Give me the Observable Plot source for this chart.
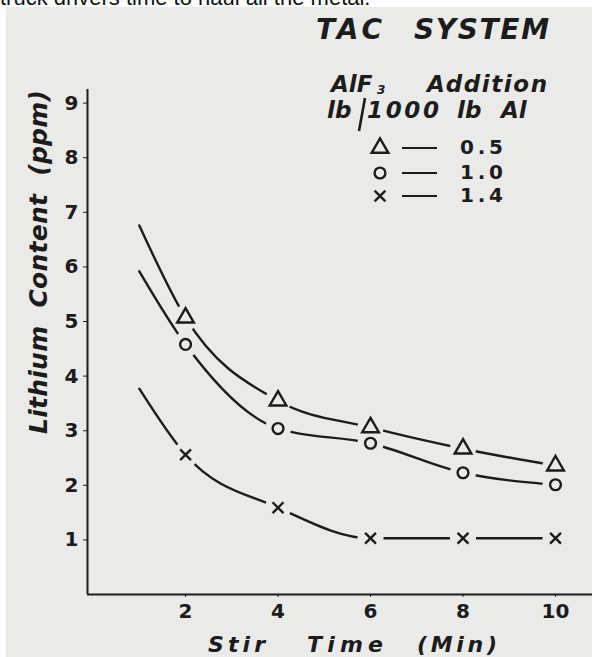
<!DOCTYPE html>
<html>
<head>
<meta charset="utf-8">
<script src="https://cdn.jsdelivr.net/npm/d3@7"></script>
<script src="https://cdn.jsdelivr.net/npm/@observablehq/plot@0.6"></script>
<style>
  html, body { margin: 0; padding: 0; background: #ffffff; }
  #page { position: relative; width: 592px; height: 657px; overflow: hidden; background: #ffffff; }
  #topline { position: absolute; left: 0px; top: -13px; font: 22px "Liberation Sans", Arial, sans-serif; line-height: 22px; color: #111; white-space: nowrap; }
  #scan { position: absolute; left: 6px; top: 7px; width: 586px; height: 650px; background: #eaeae8; }
  #chart { position: absolute; left: 0; top: 7px; }
  #overlay { position: absolute; left: 0; top: 0; }
  .t { font-family: "DejaVu Sans", sans-serif; font-weight: bold; font-style: italic; fill: #1c1c1c; white-space: pre; }
</style>
</head>
<body>
<div id="page">
  <div id="topline">truck drivers time to haul all the metal.</div>
  <div id="scan"></div>
  <div id="chart"></div>
  <svg id="overlay" width="592" height="657"></svg>
</div>
<script>
// ---- data ----
const seriesNames = ["0.5", "1.0", "1.4"];           // AlF3 addition, lb / 1000 lb Al
const seriesSymbols = ["triangle", "circle", "times"];
const stirTimes = [2, 4, 6, 8, 10];                   // minutes
const lithium05 = [5.07, 3.55, 3.06, 2.67, 2.36];     // ppm
const lithium10 = [4.58, 3.04, 2.77, 2.23, 2.01];
const lithium14 = [2.56, 1.59, 1.03, 1.03, 1.03];
const curveStartTime = 1;                             // where the fitted curves begin
const curveStartValues = [6.76, 5.92, 3.77];
const xTicks = [2, 4, 6, 8, 10];
const yTicks = [1, 2, 3, 4, 5, 6, 7, 8, 9];
const xDomain = [-0.12, 10.8];
const yDomain = [0, 9.25];

const ink = "#1c1c1c";
const paper = "#eaeae8";

const seriesValues = [lithium05, lithium10, lithium14];
const points = [];
const curves = [];
seriesNames.forEach((s, i) => {
  curves.push({series: s, t: curveStartTime, v: curveStartValues[i]});
  stirTimes.forEach((t, j) => {
    points.push({series: s, t, v: seriesValues[i][j]});
    curves.push({series: s, t, v: seriesValues[i][j]});
  });
});

const symbolRadius = {"triangle": 6.2, "circle": 5.4, "times": 5.0};

const marks = [
  Plot.ruleY([yDomain[0]], {stroke: ink, strokeWidth: 2}),
  Plot.ruleX([xDomain[0]], {stroke: ink, strokeWidth: 2}),
  Plot.line(curves, {x: "t", y: "v", z: "series", curve: "monotone-x", stroke: ink, strokeWidth: 2.4}),
  Plot.dot(points, {x: "t", y: "v", r: 13, fill: paper, stroke: null})
];
seriesNames.forEach((s, i) => {
  const sym = seriesSymbols[i];
  marks.push(Plot.dot(points.filter(d => d.series === s), {
    x: "t", y: "v", symbol: () => sym, r: symbolRadius[sym],
    stroke: ink, strokeWidth: 2.4, fill: "none"
  }));
});

const chart = Plot.plot({
  width: 592,
  height: 650,
  marginLeft: 87,
  marginRight: 0,
  marginTop: 82,
  marginBottom: 63,
  style: {background: "transparent", fontFamily: "DejaVu Sans", fontSize: "20px", fontWeight: "bold", color: ink},
  x: {domain: xDomain, ticks: xTicks, tickSize: 3, tickPadding: 6, tickFormat: d => String(d), label: null},
  y: {domain: yDomain, ticks: yTicks, tickSize: 4, tickPadding: 5, tickFormat: d => String(d), label: null},
  symbol: {domain: seriesSymbols, range: seriesSymbols},
  marks
});
document.getElementById("chart").appendChild(chart);

// ---- titles and legend (overlay) ----
const ov = d3.select("#overlay");
function txt(x, y, s, size, opts = {}) {
  const t = ov.append("text").attr("class", "t").attr("x", x).attr("y", y)
    .style("font-size", size + "px").text(s);
  if (opts.len) t.attr("textLength", opts.len).attr("lengthAdjust", "spacing");
  if (opts.upright) t.style("font-style", "normal");
  if (opts.transform) t.attr("transform", opts.transform);
  return t;
}
// title
txt(316, 39, "TAC", 28, {len: 66});
txt(414, 39, "SYSTEM", 28, {len: 135});
// legend title
txt(331, 92, "AlF", 23);
ov.append("text").attr("class", "t").attr("x", 377).attr("y", 94).style("font-size", "12px").text("3");
txt(427, 92, "Addition", 23, {len: 120});
txt(327, 118, "lb", 23);
ov.append("line").attr("x1", 365).attr("y1", 98).attr("x2", 359).attr("y2", 131)
  .attr("stroke", ink).attr("stroke-width", 2.6);
txt(367, 118, "1000", 23, {len: 72});
txt(457, 118, "lb", 23);
txt(501, 118, "Al", 23);
// legend entries
const symbolTypes = {"triangle": d3.symbolTriangle, "circle": d3.symbolCircle, "times": d3.symbolTimes};
const legendY = [148, 173, 196];
seriesNames.forEach((s, i) => {
  const sym = seriesSymbols[i];
  const r = symbolRadius[sym];
  ov.append("path").attr("d", d3.symbol(symbolTypes[sym], Math.PI * r * r)())
    .attr("transform", `translate(380,${legendY[i]})`)
    .attr("fill", "none").attr("stroke", ink).attr("stroke-width", 2.4);
  ov.append("line").attr("x1", 402).attr("x2", 437).attr("y1", legendY[i]).attr("y2", legendY[i])
    .attr("stroke", ink).attr("stroke-width", 2.2);
  txt(460, legendY[i] + 6, s, 20, {len: 43, upright: true});
});
// axis titles
txt(208, 652, "Stir", 22, {len: 57});
txt(307, 652, "Time", 22, {len: 76});
txt(417, 652, "(Min)", 22, {len: 80});
txt(0, 0, "Lithium  Content  (ppm)", 25, {len: 344, transform: "translate(47,434) rotate(-90)"});
</script>
</body>
</html>
